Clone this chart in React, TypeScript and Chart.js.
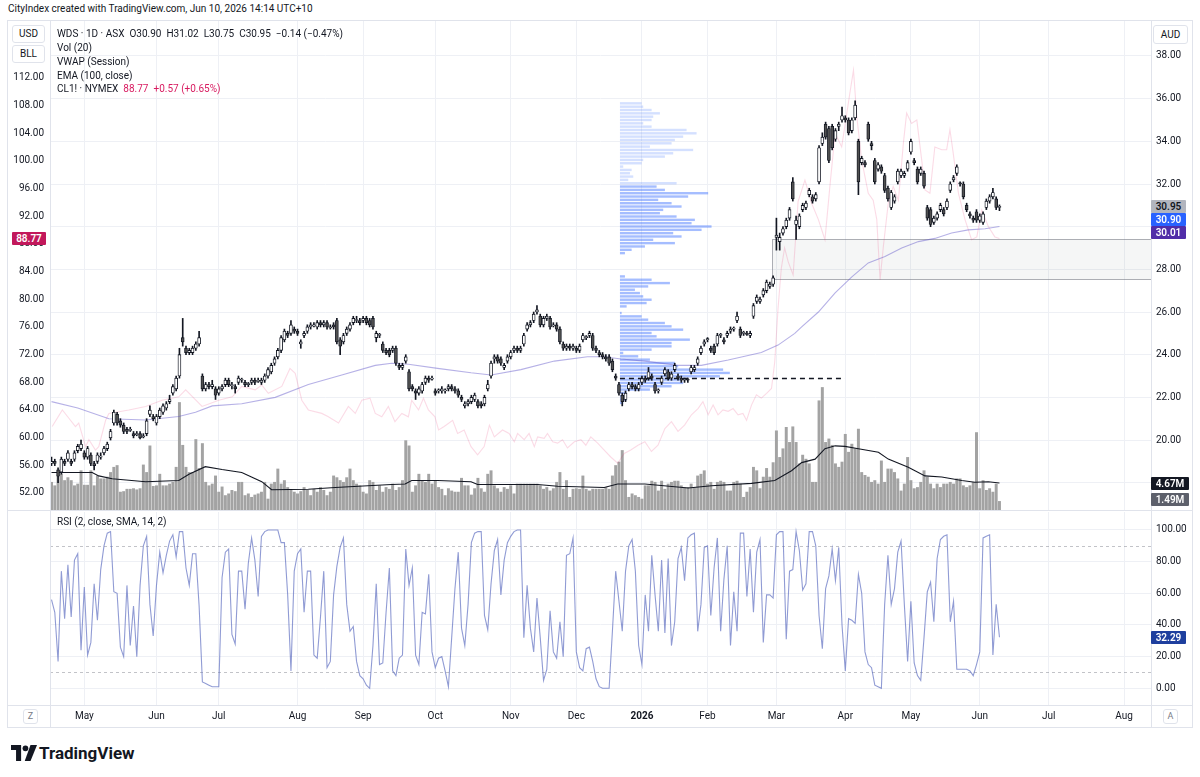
import React, { useEffect, useRef } from 'react';
import { Chart, registerables } from 'chart.js';

Chart.register(...registerables);

const FONT = "Roboto, 'DejaVu Sans', sans-serif";
const TXT = '#131722';
const GRID = '#eef0f5';
const LINE = '#e0e3eb';

// ---------- time axis ----------
const monthTickIdx = [10, 32, 51, 75, 95, 117, 140, 160, 180, 200, 221, 242, 262, 283, 304, 327];
const monthTickLabels = ['May', 'Jun', 'Jul', 'Aug', 'Sep', 'Oct', 'Nov', 'Dec', '2026', 'Feb', 'Mar', 'Apr', 'May', 'Jun', 'Jul', 'Aug'];

// ---------- axis ticks ----------
const audTicks = [18, 20, 22, 24, 26, 28, 30, 32, 34, 36, 38];
const usdTicks = [52, 56, 60, 64, 68, 72, 76, 80, 84, 88, 92, 96, 100, 104, 108, 112];
const rsiTicks = [0, 20, 40, 60, 80, 100];
const rsiBands = [90, 10];

// ---------- WDS daily OHLC (AUD) ----------
const opens = [
  18.9, 19.0, 18.6, 18.5, 19.0, 19.1, 19.0, 19.1, 19.5, 19.6,
  19.4, 19.2, 19.3, 18.9, 19.0, 19.2, 19.4, 19.6, 20.1, 20.8,
  21.2, 20.9, 20.7, 20.5, 20.45, 20.3, 20.25, 20.3, 20.15, 20.3,
  21.2, 21.1, 20.8, 21.1, 21.3, 21.5, 21.8, 22.2, 22.4, 23.0,
  24.8, 24.3, 24.1, 24.1, 24.3, 24.5, 23.0, 22.4, 22.6, 22.5,
  22.4, 22.2, 22.4, 22.6, 22.8, 22.55, 22.5, 22.7, 22.8, 22.7,
  22.6, 22.7, 22.8, 22.75, 22.7, 22.8, 23.0, 23.2, 23.6, 23.9,
  24.2, 24.7, 25.0, 25.0, 25.2, 25.1, 24.5, 24.9, 25.1, 25.3,
  25.35, 25.3, 25.5, 25.4, 25.5, 25.25, 25.4, 25.6, 24.7, 24.6,
  25.0, 25.2, 25.5, 25.6, 25.6, 25.6, 25.7, 25.6, 25.7, 24.8,
  24.9, 24.5, 24.2, 24.2, 24.2, 24.3, 23.5, 23.4, 23.7, 23.2,
  22.5, 22.3, 22.2, 22.3, 22.7, 22.9, 22.85, 22.3, 22.3, 22.3,
  22.3, 22.4, 22.5, 22.4, 22.3, 22.0, 21.6, 21.7, 21.8, 21.9,
  21.8, 21.7, 21.7, 22.4, 23.0, 23.8, 23.9, 23.8, 23.4, 23.7,
  23.9, 24.2, 24.3, 24.2, 24.5, 25.2, 25.4, 25.6, 26.0, 25.8,
  25.4, 25.7, 25.7, 25.35, 25.4, 25.2, 24.5, 24.3, 24.4, 24.3,
  24.3, 24.2, 24.7, 24.8, 24.9, 24.9, 24.3, 24.1, 24.0, 23.9,
  23.9, 23.7, 23.0, 22.6, 22.1, 21.9, 22.4, 22.6, 22.5, 22.4,
  22.7, 22.9, 22.9, 23.0, 22.6, 22.3, 22.7, 23.1, 23.2, 22.9,
  23.3, 23.0, 22.9, 22.8, 22.85, 23.2, 23.3, 23.6, 24.1, 24.5,
  24.7, 24.3, 24.4, 24.5, 24.9, 24.7, 24.9, 25.1, 25.2, 25.6,
  25.2, 25.0, 25.0, 24.9, 25.8, 26.5, 26.5, 26.8, 27.0, 27.2,
  27.3, 29.5, 29.3, 29.7, 30.0, 30.4, 32.1, 30.1, 30.0, 30.8,
  30.9, 31.5, 31.4, 31.3, 32.1, 33.9, 34.8, 34.6, 34.7, 34.1,
  34.7, 35.0, 35.1, 35.0, 34.5, 35.1, 34.0, 33.0, 33.0, 34.8,
  33.9, 33.1, 32.7, 32.8, 32.4, 31.8, 30.9, 31.2, 32.1, 32.4,
  32.4, 32.7, 33.5, 33.1, 32.7, 32.5, 32.5, 30.9, 30.8, 30.2,
  30.4, 30.8, 30.8, 30.9, 31.7, 32.2, 32.5, 32.05, 32.0, 31.0,
  30.6, 30.4, 30.7, 30.3, 30.2, 30.9, 31.2, 31.4, 31.3, 30.9,
];
const highs = [
  19.2, 19.1, 18.7, 19.2, 19.1, 19.5, 19.1, 19.5, 19.8, 20.0,
  19.5, 19.7, 19.4, 19.0, 19.4, 19.4, 19.7, 19.9, 20.5, 21.4,
  21.3, 21.0, 20.8, 20.6, 20.6, 20.4, 20.4, 20.4, 20.3, 21.0,
  21.6, 21.2, 21.2, 21.5, 21.7, 21.8, 22.1, 22.6, 23.0, 24.3,
  25.7, 24.4, 24.3, 24.4, 24.6, 25.1, 23.1, 22.7, 22.7, 22.8,
  22.5, 22.5, 22.6, 22.9, 22.9, 22.7, 22.6, 23.0, 22.9, 22.8,
  22.7, 22.9, 22.9, 22.9, 22.9, 23.1, 23.4, 23.6, 23.9, 24.3,
  24.9, 25.2, 25.1, 25.6, 25.3, 25.2, 24.7, 25.1, 25.4, 25.5,
  25.5, 25.6, 25.6, 25.6, 25.6, 25.4, 25.5, 25.7, 24.8, 25.0,
  25.3, 25.5, 25.8, 25.8, 25.7, 25.8, 25.8, 25.7, 25.8, 25.1,
  25.0, 24.6, 24.3, 24.3, 24.4, 24.4, 23.6, 23.6, 24.0, 23.3,
  22.6, 22.4, 22.5, 22.7, 23.0, 23.0, 23.0, 22.4, 22.4, 22.5,
  22.4, 22.6, 22.6, 22.5, 22.4, 22.1, 21.8, 21.9, 22.1, 22.2,
  21.9, 21.8, 22.1, 22.8, 23.7, 24.0, 24.0, 23.9, 23.6, 24.0,
  24.2, 24.4, 24.4, 24.4, 25.0, 25.5, 25.6, 26.0, 26.3, 25.9,
  25.8, 25.9, 25.8, 25.5, 25.5, 25.3, 24.6, 24.5, 24.5, 24.5,
  24.4, 24.5, 25.0, 24.9, 25.1, 25.0, 24.4, 24.2, 24.1, 24.0,
  24.0, 23.8, 23.1, 22.7, 22.2, 22.3, 22.7, 22.7, 22.6, 22.7,
  23.0, 23.0, 23.4, 23.1, 22.7, 22.4, 23.0, 23.4, 23.3, 23.2,
  23.6, 23.1, 23.0, 22.9, 22.9, 23.5, 23.5, 23.9, 24.4, 24.7,
  24.8, 24.4, 24.5, 25.0, 25.0, 24.8, 25.1, 25.3, 25.3, 26.0,
  25.3, 25.1, 25.1, 25.1, 26.4, 26.8, 26.7, 27.1, 27.5, 27.4,
  27.7, 30.4, 29.7, 30.0, 30.4, 30.9, 32.3, 30.5, 30.6, 31.1,
  31.2, 31.8, 31.5, 31.6, 33.8, 34.4, 34.9, 34.7, 34.8, 34.6,
  34.9, 35.6, 35.2, 35.1, 35.1, 35.9, 34.1, 33.3, 33.1, 34.9,
  34.0, 33.2, 33.0, 32.9, 32.5, 31.9, 31.7, 31.5, 32.7, 32.7,
  32.6, 33.1, 34.1, 33.2, 32.8, 32.8, 32.6, 31.0, 30.9, 30.5,
  30.7, 31.1, 30.9, 31.3, 32.1, 32.4, 32.9, 32.1, 32.1, 31.1,
  30.7, 30.5, 30.8, 30.6, 30.7, 31.3, 31.5, 31.8, 31.4, 31.02,
];
const lows = [
  18.8, 18.8, 18.0, 18.4, 18.8, 19.0, 18.8, 19.0, 19.4, 19.5,
  19.1, 19.1, 18.8, 18.6, 18.9, 19.1, 19.3, 19.5, 20.0, 20.7,
  20.7, 20.6, 20.3, 20.3, 20.4, 20.1, 20.2, 20.05, 20.1, 20.2,
  21.1, 20.9, 20.7, 21.0, 21.2, 21.4, 21.7, 22.1, 22.3, 22.9,
  24.4, 24.0, 24.0, 24.0, 24.2, 24.4, 22.3, 22.3, 22.4, 22.4,
  21.9, 22.1, 22.3, 22.5, 22.5, 22.4, 22.2, 22.6, 22.7, 22.5,
  22.5, 22.6, 22.6, 22.7, 22.6, 22.7, 22.9, 23.1, 23.5, 23.8,
  24.1, 24.6, 24.8, 24.9, 25.0, 24.9, 24.3, 24.8, 25.0, 25.2,
  25.3, 25.2, 25.3, 25.3, 25.2, 25.2, 25.2, 24.5, 24.0, 24.5,
  24.9, 25.1, 25.4, 25.5, 25.4, 25.5, 25.4, 25.3, 25.2, 24.6,
  24.8, 24.1, 24.0, 23.9, 24.1, 23.5, 23.3, 23.3, 23.6, 22.3,
  22.3, 21.9, 22.1, 22.2, 22.6, 22.7, 22.8, 22.1, 22.2, 22.2,
  22.2, 22.3, 22.3, 22.2, 22.0, 21.8, 21.5, 21.6, 21.7, 21.8,
  21.5, 21.5, 21.6, 22.3, 22.9, 23.6, 23.6, 23.5, 23.3, 23.6,
  23.8, 24.1, 24.1, 24.1, 24.4, 25.1, 25.3, 25.5, 25.9, 25.3,
  25.3, 25.6, 25.2, 25.3, 25.1, 24.5, 24.2, 24.2, 24.2, 24.2,
  24.1, 24.1, 24.6, 24.7, 24.8, 24.2, 24.1, 23.9, 23.8, 23.7,
  23.5, 23.2, 22.8, 22.1, 21.6, 21.8, 22.3, 22.4, 22.3, 22.3,
  22.6, 22.7, 22.8, 22.8, 22.2, 22.2, 22.6, 23.0, 22.8, 22.8,
  23.2, 22.8, 22.7, 22.7, 22.7, 23.1, 23.2, 23.5, 24.0, 24.4,
  24.6, 24.1, 24.0, 24.4, 24.8, 24.5, 24.8, 25.0, 25.1, 25.5,
  24.8, 24.9, 24.9, 24.8, 25.7, 26.4, 26.4, 26.7, 26.9, 27.1,
  27.2, 28.9, 28.9, 29.6, 29.9, 30.3, 31.2, 29.4, 29.9, 30.7,
  30.8, 31.4, 31.1, 31.2, 32.0, 33.8, 34.1, 33.0, 33.6, 34.0,
  34.5, 34.9, 34.9, 34.3, 34.4, 35.0, 31.5, 32.9, 32.8, 34.0,
  33.6, 32.0, 32.6, 32.5, 31.6, 31.2, 30.8, 31.1, 32.0, 32.3,
  32.3, 32.6, 33.4, 32.9, 32.0, 32.4, 31.8, 30.3, 30.0, 30.1,
  30.3, 30.7, 30.5, 30.8, 31.6, 32.1, 32.4, 31.9, 31.3, 30.7,
  30.4, 30.2, 30.2, 30.2, 30.1, 30.8, 31.1, 31.3, 30.8, 30.75,
];
const closes = [
  19.0, 18.9, 18.3, 19.1, 18.9, 19.4, 18.9, 19.4, 19.7, 19.8,
  19.2, 19.6, 18.9, 18.8, 19.3, 19.25, 19.6, 19.8, 20.4, 21.3,
  20.8, 20.7, 20.4, 20.4, 20.5, 20.2, 20.3, 20.1, 20.2, 20.9,
  21.4, 21.0, 21.1, 21.4, 21.6, 21.7, 21.9, 22.5, 22.9, 24.0,
  24.6, 24.1, 24.2, 24.3, 24.5, 24.8, 22.4, 22.6, 22.5, 22.6,
  22.1, 22.4, 22.5, 22.8, 22.6, 22.6, 22.4, 22.9, 22.85, 22.6,
  22.65, 22.8, 22.7, 22.8, 22.8, 23.0, 23.3, 23.5, 23.8, 24.2,
  24.8, 25.1, 24.9, 25.4, 25.1, 25.0, 24.6, 25.0, 25.3, 25.4,
  25.4, 25.5, 25.4, 25.5, 25.3, 25.3, 25.3, 24.6, 24.4, 24.9,
  25.2, 25.4, 25.7, 25.65, 25.5, 25.7, 25.5, 25.4, 25.3, 25.0,
  24.95, 24.2, 24.1, 24.0, 24.3, 23.6, 23.4, 23.5, 23.9, 22.4,
  22.4, 22.2, 22.4, 22.6, 22.9, 22.8, 22.9, 22.2, 22.35, 22.4,
  22.35, 22.5, 22.4, 22.3, 22.1, 21.9, 21.7, 21.8, 22.0, 22.1,
  21.6, 21.6, 22.0, 22.6, 23.6, 23.9, 23.7, 23.6, 23.5, 23.9,
  24.1, 24.3, 24.2, 24.3, 24.9, 25.4, 25.5, 25.9, 26.1, 25.4,
  25.7, 25.8, 25.3, 25.4, 25.2, 24.6, 24.3, 24.4, 24.3, 24.4,
  24.2, 24.4, 24.9, 24.85, 25.0, 24.3, 24.2, 24.0, 23.9, 23.8,
  23.6, 23.3, 22.9, 22.2, 21.8, 22.2, 22.6, 22.5, 22.4, 22.6,
  22.9, 22.8, 23.2, 22.9, 22.3, 22.35, 22.9, 23.3, 22.9, 23.1,
  23.5, 22.9, 22.8, 22.85, 22.8, 23.4, 23.4, 23.8, 24.3, 24.6,
  24.75, 24.2, 24.1, 24.9, 24.95, 24.6, 25.0, 25.2, 25.25, 25.8,
  24.9, 25.05, 24.95, 25.0, 26.3, 26.7, 26.6, 27.0, 27.4, 27.3,
  27.6, 29.6, 29.5, 29.9, 30.3, 30.8, 31.3, 30.3, 30.5, 31.0,
  31.1, 31.7, 31.2, 31.5, 33.7, 34.2, 34.2, 33.1, 33.7, 34.5,
  34.8, 35.2, 35.0, 34.4, 35.0, 35.7, 32.1, 33.2, 32.9, 34.1,
  33.8, 32.1, 32.9, 32.6, 31.7, 31.3, 31.6, 31.4, 32.6, 32.6,
  32.5, 33.0, 34.0, 33.0, 32.1, 32.7, 31.9, 30.4, 30.1, 30.4,
  30.6, 31.0, 30.6, 31.2, 32.0, 32.3, 32.8, 32.0, 31.4, 30.8,
  30.5, 30.3, 30.3, 30.5, 30.6, 31.2, 31.4, 31.6, 30.9, 30.95,
];

// ---------- volume (millions) ----------
const volumes = [
  4.8, 4.2, 5.9, 6.2, 5.1, 5.6, 5.1, 4.2, 4.5, 6.8,
  4.3, 4.3, 6.8, 4.2, 5.9, 5.4, 5.4, 5.7, 6.5, 7.4,
  7.7, 3.1, 3.2, 3.6, 3.6, 3.7, 3.5, 3.7, 7.8, 6.5,
  11.1, 4.1, 4.2, 6.2, 4.2, 4.2, 4.5, 4.8, 7.4, 18.6,
  11.2, 7.4, 6.5, 6.5, 12.2, 7.2, 11.5, 4.8, 4.2, 4.5,
  5.9, 3.1, 4.0, 2.5, 2.8, 3.4, 3.2, 4.8, 4.8, 2.5,
  2.8, 2.2, 2.6, 2.8, 3.1, 4.8, 1.9, 4.5, 4.8, 7.1,
  4.5, 5.1, 3.9, 3.4, 3.1, 2.8, 3.2, 3.9, 3.4, 2.5,
  3.6, 3.1, 3.9, 3.4, 2.5, 3.1, 5.9, 5.6, 5.1, 4.8,
  5.6, 7.1, 5.1, 4.5, 4.2, 3.1, 2.8, 5.1, 4.8, 3.4,
  4.2, 3.1, 3.9, 3.6, 4.5, 3.4, 3.9, 5.1, 12.0, 11.1,
  3.1, 4.2, 6.2, 5.1, 4.8, 6.2, 4.5, 5.1, 3.9, 3.6,
  2.5, 3.7, 3.3, 3.1, 3.1, 5.5, 4.2, 4.2, 2.6, 3.7,
  5.5, 3.7, 3.1, 6.2, 6.8, 4.2, 3.7, 3.1, 3.9, 3.6,
  4.2, 2.8, 4.5, 4.5, 4.5, 4.5, 4.5, 4.5, 4.5, 4.2,
  3.6, 3.9, 3.3, 3.7, 4.8, 6.5, 3.6, 5.1, 2.2, 3.6,
  3.7, 3.6, 5.9, 3.6, 3.3, 3.6, 3.6, 3.6, 3.6, 3.9,
  3.6, 5.9, 7.7, 8.3, 10.3, 5.1, 2.2, 2.8, 2.5, 2.2,
  1.9, 4.2, 4.2, 5.0, 4.8, 3.3, 5.0, 3.6, 4.5, 4.8,
  5.0, 5.0, 4.2, 3.9, 3.9, 4.5, 3.9, 5.9, 6.2, 6.8,
  4.5, 4.8, 3.6, 4.8, 5.0, 4.8, 3.3, 3.3, 4.8, 5.0,
  4.5, 2.2, 3.1, 3.9, 7.4, 6.8, 3.7, 5.7, 7.2, 5.7,
  8.2, 13.7, 9.1, 10.6, 14.3, 11.7, 14.4, 11.7, 8.0, 9.5,
  8.8, 8.0, 4.8, 4.8, 18.9, 21.2, 11.7, 12.3, 11.2, 8.0,
  7.4, 8.3, 13.1, 10.0, 11.4, 10.6, 14.0, 6.5, 6.0, 5.7,
  4.8, 5.1, 4.5, 8.5, 4.8, 7.1, 7.1, 6.5, 5.4, 3.3,
  4.5, 9.1, 5.1, 3.7, 3.9, 4.8, 6.8, 5.7, 4.5, 3.7,
  4.5, 3.9, 4.5, 4.5, 4.8, 4.5, 5.4, 5.4, 4.2, 3.9,
  4.2, 4.8, 13.4, 3.7, 5.1, 3.4, 3.7, 3.1, 4.5, 1.49,
];

// Vol (20) moving average: [bar index, millions]
const volMaPoints = [
  [0, 6.5], [12.4, 6.5], [14.4, 5.9], [18.5, 5.4], [28.7, 4.9], [38.8, 5.1], [41.9, 6.2], [46.9, 7.5],
  [52, 7.0], [58, 6.5], [64.1, 4.9], [67.1, 3.5], [78.3, 3.6], [86.5, 3.9], [93.6, 4.1], [103.7, 4.4],
  [107.8, 4.5], [109.8, 5.1], [117.7, 5.1], [127.9, 4.9], [129.9, 4.4], [148.2, 4.4], [154.3, 4.1],
  [168.5, 3.9], [172.6, 4.5], [180.9, 4.5], [194.1, 3.8], [201.2, 4.2], [213.4, 4.6], [220.5, 5.1],
  [225.6, 6.8], [228.7, 8.2], [232.8, 8.8], [235.8, 10.6], [238.9, 11.1], [241.9, 11.0], [246, 10.6],
  [252.1, 10.0], [255.1, 8.8], [261.2, 7.4], [266.3, 5.9], [271.4, 5.7], [277.5, 5.1], [281.5, 4.8],
  [285.6, 4.9], [289, 4.67],
];

// EMA (100, close): [bar index, AUD]
const emaPoints = [
  [0, 21.8], [8, 21.5], [17.5, 21.0], [28.7, 20.94], [38.8, 21.1], [43.9, 21.3], [49, 21.6], [58, 21.7],
  [68.2, 22.0], [78.3, 22.6], [88.5, 23.05], [98.7, 23.5], [103.7, 23.6], [108.8, 23.55], [117.7, 23.36],
  [127.9, 23.15], [134, 23.05], [143.1, 23.3], [153.3, 23.7], [163.4, 23.9], [168.5, 23.9], [173.6, 23.8],
  [180.9, 23.7], [191, 23.5], [198.1, 23.5], [206.3, 23.75], [216.4, 24.1], [221.5, 24.45], [226.6, 25.0],
  [228.7, 25.3], [233.8, 26.0], [238.9, 26.9], [244, 27.65], [249, 28.3], [254.1, 28.6], [259.2, 29.0],
  [264.3, 29.3], [269.3, 29.45], [274.4, 29.7], [279.5, 29.85], [284.6, 29.9], [289, 30.01],
];

// CL1! NYMEX overlay (USD, left scale): [bar index, USD]
const cl1Points = [
  [0.2, 61.6], [3.3, 64.0], [5.3, 62.8], [7.3, 61.6], [8.3, 62.1], [10.4, 58.7], [11.4, 59.7], [13.4, 58.2],
  [14.4, 58.7], [16.5, 62.5], [17.5, 63.5], [23.6, 64.0], [28.7, 64.5], [33.7, 65.4], [38.8, 65.9],
  [40.9, 66.9], [45.9, 64.5], [51, 65.4], [55.1, 65.9], [58, 67.4], [62.1, 66.9], [64.1, 67.6], [66.1, 66.4],
  [70.2, 67.4], [72.7, 70.0], [74.3, 69.3], [76.3, 65.4], [78.3, 64.0], [82.4, 63.5], [84.4, 63.0],
  [87.5, 62.1], [90.5, 64.5], [92.6, 63.5], [94.6, 65.4], [97.1, 65.7], [98.7, 63.5], [100.7, 63.0],
  [102.7, 64.5], [104.7, 62.3], [106.8, 63.5], [108.8, 63.0], [109.8, 65.4], [111.9, 64.0], [113.4, 65.7],
  [114.9, 64.0], [116.9, 63.0], [118, 61.1], [119.7, 61.6], [122.3, 62.5], [123.8, 60.6], [125.8, 61.1],
  [127.9, 58.7], [129.9, 57.5], [131.9, 58.7], [133.5, 61.8], [135, 60.1], [137.5, 61.1], [139.5, 60.6],
  [141.1, 59.4], [142.1, 60.6], [144.1, 59.7], [145.6, 60.6], [147.2, 58.7], [148.2, 60.1], [150.2, 59.9],
  [151.2, 60.6], [152.8, 59.4], [154.3, 59.2], [155.8, 59.7], [157.3, 58.5], [159.4, 59.4], [161.4, 59.7],
  [162.9, 58.9], [164.4, 60.1], [166.5, 59.2], [168.5, 58.2], [170.5, 57.2], [172.6, 56.3], [174.6, 57.7],
  [176.6, 58.2], [178.8, 58.9], [180.9, 59.4], [182.9, 58.0], [184.9, 58.9], [187, 61.3], [189, 62.3],
  [191, 60.9], [193, 61.8], [195.1, 63.3], [197.1, 64.2], [198.6, 65.2], [200.2, 63.3], [201.7, 64.7],
  [203.2, 63.3], [204.7, 64.0], [206.3, 63.8], [207.8, 64.2], [209.3, 63.3], [210.8, 63.5], [211.9, 62.5],
  [213.4, 64.7], [214.9, 66.2], [216.4, 65.7], [218, 66.4], [219.5, 67.1], [220.5, 71.0], [221.5, 78.7],
  [222.5, 84.5], [223.5, 87.4], [224.6, 85.4], [226.1, 83.5], [227.6, 94.1], [229.7, 97.2], [231.7, 93.9],
  [233.8, 91.5], [235.8, 88.6], [237.3, 96.3], [238.9, 104.0], [240.9, 102.0], [243.4, 109.8],
  [244.5, 113.1], [245.5, 106.4], [247, 100.1], [249, 95.3], [250.5, 94.3], [251.6, 91.5], [252.6, 82.8],
  [253.6, 87.6], [255.1, 93.9], [256.6, 96.3], [258.2, 94.3], [259.7, 102.5], [260.7, 106.9],
  [262.2, 105.4], [263.8, 105.9], [265.3, 100.1], [266.3, 95.8], [267.8, 95.3], [269.3, 102.0],
  [271.4, 101.6], [272.9, 101.6], [273.9, 104.5], [274.9, 101.1], [276.5, 95.3], [278.5, 91.5],
  [280.5, 88.6], [282.1, 89.0], [283.6, 92.9], [285.6, 90.5], [287.6, 89.0], [289, 88.77],
];

// RSI (2, close)
const rsiValues = [
  56, 48, 17, 74, 44, 78, 45, 81, 85, 24,
  64, 21, 29, 66, 43, 75, 90, 98, 99, 61,
  60, 26, 20, 65, 27, 52, 20, 65, 90, 96,
  53, 33, 65, 86, 73, 84, 93, 97, 83, 99,
  99, 76, 65, 85, 85, 52, 4, 3, 2, 1,
  1, 1, 70, 86, 88, 34, 28, 74, 74, 50,
  79, 95, 81, 58, 96, 99, 100, 100, 100, 100,
  92, 92, 59, 11, 74, 85, 88, 48, 74, 74,
  21, 19, 45, 74, 13, 17, 59, 77, 89, 95,
  53, 36, 39, 17, 8, 6, 2, 0, 27, 66,
  15, 16, 48, 76, 11, 8, 19, 21, 88, 65,
  76, 21, 15, 48, 47, 72, 23, 13, 19, 20,
  11, 1, 32, 63, 86, 38, 27, 53, 92, 98,
  99, 99, 46, 37, 66, 87, 94, 59, 81, 92,
  96, 99, 100, 100, 32, 65, 38, 23, 57, 32,
  5, 12, 49, 23, 19, 42, 20, 84, 85, 95,
  23, 13, 11, 25, 26, 17, 6, 1, 0, 0,
  0, 36, 74, 55, 36, 74, 90, 94, 74, 27,
  15, 59, 36, 84, 59, 36, 81, 35, 82, 27,
  42, 82, 89, 68, 95, 97, 98, 36, 53, 89,
  90, 46, 76, 95, 36, 69, 90, 27, 61, 36,
  98, 98, 58, 88, 48, 86, 94, 29, 59, 59,
  57, 97, 99, 99, 31, 74, 75, 99, 87, 62,
  66, 99, 99, 90, 46, 25, 63, 71, 88, 68,
  89, 40, 11, 44, 43, 41, 72, 60, 23, 15,
  13, 2, 1, 0, 53, 84, 53, 63, 86, 93,
  53, 17, 55, 16, 8, 5, 32, 61, 67, 42,
  82, 94, 96, 97, 42, 55, 12, 12, 12, 12,
  11, 8, 15, 23, 95, 96, 97, 21, 53, 32.29,
];

// Fixed range volume profile (rows from the top price downward)
const vpTopPrice = 35.78;
const vpRowSize = 0.156;
const vpStartIdx = 173.3;
const vpWidthBars = 33.5;
const vpValueAreaHigh = 32.0;
const vpPocPrice = 22.9;
const vpPocEndIdx = 241.9;
const vpVolumes = [
  21.7, 23.3, 31.7, 40, 33.3, 31.7, 23.3, 31.7, 66.7, 76.7,
  63.3, 55, 51.7, 30, 73.3, 53.3, 45, 23.3, 21.7, 3.3,
  11.7, 10, 13.3, 8.3, 56.7, 36.7, 45, 88.3, 68.3, 38.3,
  51.7, 61.7, 43.3, 40, 56.7, 75, 71.7, 91.7, 81.7, 53.3,
  61.7, 33.3, 55, 25, 11.7, 5,
  0, 0, 0, 0, 0, 0,
  5, 31.7, 50, 28.3, 15, 20, 23.3, 31.7, 26.7, 6.7,
  0, 1.7, 21.7, 28.3, 45, 51.7, 63.3, 31.7, 36.7, 70,
  51.7, 51.7, 31.7, 3.3, 18.3, 30, 55, 58.3, 103.3, 110,
  100, 61.7, 63.3, 51.7, 30, 6.7, 5, 6.7, 3.3,
];

// Gap rectangle drawn on the chart
const gapBoxStartIdx = 219.7;
const gapBoxTop = 29.41;
const gapBoxBottom = 27.53;

const X_MIN = -0.46;
const X_MAX = 335.2;

const tickFont = { family: FONT, size: 10 };

const priceOverlay = {
  id: 'priceOverlay',
  beforeDatasetsDraw(chart: any) {
    const { ctx, chartArea, scales } = chart;
    const xs = scales.x;
    const ys = scales.y;
    ctx.save();
    ctx.beginPath();
    ctx.rect(chartArea.left, chartArea.top, chartArea.width, chartArea.height);
    ctx.clip();
    const bx0 = Math.round(xs.getPixelForValue(gapBoxStartIdx)) + 0.5;
    const by0 = Math.round(ys.getPixelForValue(gapBoxTop)) + 0.5;
    const by1 = Math.round(ys.getPixelForValue(gapBoxBottom)) + 0.5;
    ctx.fillStyle = 'rgba(120,123,134,0.07)';
    ctx.fillRect(bx0, by0, chartArea.right - bx0, by1 - by0);
    ctx.strokeStyle = 'rgba(120,123,134,0.6)';
    ctx.lineWidth = 1;
    ctx.strokeRect(bx0, by0, chartArea.right - bx0 + 4, by1 - by0);
    const maxV = Math.max(...vpVolumes);
    const x0 = xs.getPixelForValue(vpStartIdx);
    const fullW = xs.getPixelForValue(vpStartIdx + vpWidthBars) - x0;
    vpVolumes.forEach((v, k) => {
      if (v <= 0) return;
      const p = vpTopPrice - k * vpRowSize;
      const yc = ys.getPixelForValue(p);
      const h = Math.abs(ys.getPixelForValue(p - vpRowSize) - yc) * 0.72;
      ctx.fillStyle = p <= vpValueAreaHigh ? 'rgba(41,98,255,0.42)' : 'rgba(41,98,255,0.2)';
      ctx.fillRect(x0, yc - h / 2, (v / maxV) * fullW, h);
    });
    ctx.restore();
  },
  afterDatasetsDraw(chart: any) {
    const { ctx, scales } = chart;
    const xs = scales.x;
    const ys = scales.y;
    const y = Math.round(ys.getPixelForValue(vpPocPrice)) + 0.5;
    ctx.save();
    ctx.strokeStyle = '#131722';
    ctx.lineWidth = 1.3;
    ctx.setLineDash([5, 4]);
    ctx.beginPath();
    ctx.moveTo(xs.getPixelForValue(vpStartIdx), y);
    ctx.lineTo(xs.getPixelForValue(vpPocEndIdx), y);
    ctx.stroke();
    ctx.restore();
  },
};

const rsiOverlay = {
  id: 'rsiOverlay',
  beforeDatasetsDraw(chart: any) {
    const { ctx, chartArea, scales } = chart;
    ctx.save();
    ctx.strokeStyle = 'rgba(120,123,134,0.45)';
    ctx.lineWidth = 1;
    ctx.setLineDash([3, 3]);
    rsiBands.forEach((b) => {
      const y = Math.round(scales.y.getPixelForValue(b)) + 0.5;
      ctx.beginPath();
      ctx.moveTo(chartArea.left, y);
      ctx.lineTo(chartArea.right, y);
      ctx.stroke();
    });
    ctx.restore();
  },
};

function xAxis(showLabels: boolean) {
  return {
    type: 'linear',
    min: X_MIN,
    max: X_MAX,
    offset: false,
    afterBuildTicks: (s: any) => {
      s.ticks = monthTickIdx.map((v) => ({ value: v }));
    },
    ticks: {
      display: showLabels,
      autoSkip: false,
      maxRotation: 0,
      padding: 5,
      color: TXT,
      font: (c: any) => ({ family: FONT, size: 10, weight: monthTickLabels[c.index] === '2026' ? 'bold' : 'normal' }),
      callback: (_v: any, i: number) => monthTickLabels[i],
    },
    grid: { color: GRID, drawTicks: false, offset: false },
    border: { display: false },
    afterFit: (s: any) => {
      s.height = showLabels ? 23 : 0;
      s.paddingLeft = 0;
      s.paddingRight = 0;
    },
  };
}

function PriceChart() {
  const ref = useRef<HTMLCanvasElement>(null);
  useEffect(() => {
    const idx = closes.map((_, i) => i);
    const chart = new Chart(ref.current as HTMLCanvasElement, {
      type: 'bar',
      data: {
        datasets: [
          {
            type: 'bar',
            label: 'Volume',
            yAxisID: 'vol',
            data: idx.map((i) => ({ x: i, y: volumes[i] })),
            backgroundColor: '#a3a3a3',
            barThickness: 2.3,
            grouped: false,
            order: 10,
          },
          {
            type: 'line',
            label: 'Vol MA',
            yAxisID: 'vol',
            data: volMaPoints.map(([x, y]) => ({ x, y })),
            borderColor: '#131722',
            borderWidth: 1.1,
            pointRadius: 0,
            order: 9,
          },
          {
            type: 'line',
            label: 'CL1!',
            yAxisID: 'yL',
            data: cl1Points.map(([x, y]) => ({ x, y })),
            borderColor: 'rgba(233,30,99,0.16)',
            borderWidth: 1.1,
            pointRadius: 0,
            order: 8,
          },
          {
            type: 'line',
            label: 'EMA',
            yAxisID: 'y',
            data: emaPoints.map(([x, y]) => ({ x, y })),
            borderColor: 'rgba(94,82,200,0.45)',
            borderWidth: 1.1,
            pointRadius: 0,
            order: 7,
          },
          {
            type: 'bar',
            label: 'Wicks',
            yAxisID: 'y',
            data: idx.map((i) => ({ x: i, y: [lows[i], highs[i]] })),
            backgroundColor: '#131722',
            barThickness: 1,
            grouped: false,
            order: 3,
          },
          {
            type: 'bar',
            label: 'Bodies',
            yAxisID: 'y',
            data: idx.map((i) => ({ x: i, y: [opens[i], closes[i]] })),
            backgroundColor: (c: any) => (closes[c.dataIndex] >= opens[c.dataIndex] ? '#ffffff' : '#505050'),
            borderColor: '#131722',
            borderWidth: 0.9,
            borderSkipped: false,
            barThickness: 3,
            minBarLength: 1,
            grouped: false,
            order: 2,
          },
        ],
      },
      options: {
        animation: false,
        responsive: false,
        maintainAspectRatio: false,
        events: [],
        layout: { padding: 0 },
        plugins: { legend: { display: false }, tooltip: { enabled: false } },
        scales: {
          x: xAxis(false),
          y: {
            position: 'right',
            min: 16.72,
            max: 39.64,
            afterBuildTicks: (s: any) => {
              s.ticks = audTicks.map((v) => ({ value: v }));
            },
            ticks: {
              color: TXT,
              font: tickFont,
              padding: 5,
              callback: (v: any) => (Number(v) === 30 ? '' : Number(v).toFixed(2)),
            },
            grid: { color: GRID, drawTicks: false },
            border: { display: false },
            afterFit: (s: any) => {
              s.width = 41;
              s.paddingTop = 0;
              s.paddingBottom = 0;
            },
          },
          yL: {
            position: 'left',
            min: 49.54,
            max: 120.2,
            afterBuildTicks: (s: any) => {
              s.ticks = usdTicks.map((v) => ({ value: v }));
            },
            ticks: { color: TXT, font: tickFont, padding: 6, callback: (v: any) => Number(v).toFixed(2) },
            grid: { display: false, drawTicks: false },
            border: { display: false },
            afterFit: (s: any) => {
              s.width = 42;
              s.paddingTop = 0;
              s.paddingBottom = 0;
            },
          },
          vol: { display: false, min: 0, max: 84.6 },
        },
      } as any,
      plugins: [priceOverlay],
    } as any);
    return () => chart.destroy();
  }, []);
  return (
    <canvas
      ref={ref}
      width={1184}
      height={489}
      style={{ position: 'absolute', left: 8, top: 21, width: 1184, height: 489 }}
    />
  );
}

function RsiChart() {
  const ref = useRef<HTMLCanvasElement>(null);
  useEffect(() => {
    const chart = new Chart(ref.current as HTMLCanvasElement, {
      type: 'line',
      data: {
        datasets: [
          {
            label: 'RSI',
            data: rsiValues.map((v, i) => ({ x: i, y: v })),
            borderColor: 'rgba(92,107,192,0.68)',
            borderWidth: 1.1,
            pointRadius: 0,
            tension: 0,
          },
        ],
      },
      options: {
        animation: false,
        responsive: false,
        maintainAspectRatio: false,
        events: [],
        layout: { padding: { left: 42, top: 1, right: 0, bottom: 0 } },
        plugins: { legend: { display: false }, tooltip: { enabled: false } },
        scales: {
          x: xAxis(true),
          y: {
            position: 'right',
            min: -10.55,
            max: 111.37,
            afterBuildTicks: (s: any) => {
              s.ticks = rsiTicks.map((v) => ({ value: v }));
            },
            ticks: { color: TXT, font: tickFont, padding: 5, callback: (v: any) => Number(v).toFixed(2) },
            grid: { color: GRID, drawTicks: false },
            border: { display: false },
            afterFit: (s: any) => {
              s.width = 41;
              s.paddingTop = 0;
              s.paddingBottom = 0;
            },
          },
        },
      } as any,
      plugins: [rsiOverlay],
    } as any);
    return () => chart.destroy();
  }, []);
  return (
    <canvas
      ref={ref}
      width={1184}
      height={217}
      style={{ position: 'absolute', left: 8, top: 511, width: 1184, height: 217 }}
    />
  );
}

function Txt(props: any) {
  const { x, y, size = 10, color = TXT, weight = 'normal', children } = props;
  return (
    <div
      style={{
        position: 'absolute',
        left: x,
        top: y,
        transform: 'translateY(-50%)',
        fontSize: size,
        fontWeight: weight,
        color,
        whiteSpace: 'pre',
        lineHeight: 1,
        fontFamily: FONT,
      }}
    >
      {children}
    </div>
  );
}

function Badge(props: any) {
  const { x, y, w = 35, h = 13, bg, fg = '#ffffff', text } = props;
  return (
    <div
      style={{
        position: 'absolute',
        left: x,
        top: y,
        width: w,
        height: h,
        background: bg,
        color: fg,
        fontFamily: FONT,
        fontSize: 10,
        fontWeight: 600,
        lineHeight: `${h}px`,
        textAlign: 'center',
        borderRadius: 1,
      }}
    >
      {text}
    </div>
  );
}

function Box(props: any) {
  const { x, y, w, h, text, size = 10, color = TXT } = props;
  return (
    <div
      style={{
        position: 'absolute',
        left: x,
        top: y,
        width: w,
        height: h,
        border: `1px solid ${LINE}`,
        borderRadius: 3,
        background: '#fff',
        color,
        fontFamily: FONT,
        fontSize: size,
        lineHeight: `${h - 2}px`,
        textAlign: 'center',
        boxSizing: 'border-box',
      }}
    >
      {text}
    </div>
  );
}

function HLine({ x, y, w }: any) {
  return <div style={{ position: 'absolute', left: x, top: y, width: w, height: 1, background: LINE }} />;
}
function VLine({ x, y, h }: any) {
  return <div style={{ position: 'absolute', left: x, top: y, width: 1, height: h, background: LINE }} />;
}

const gap = { marginRight: 5 };

export default function App() {
  return (
    <div
      style={{
        position: 'absolute',
        left: 0,
        top: 0,
        width: 1200,
        height: 777,
        background: '#ffffff',
        overflow: 'hidden',
        fontFamily: FONT,
        color: TXT,
      }}
    >
      <Txt x={8} y={9} size={10}>CityIndex created with TradingView.com, Jun 10, 2026 14:14 UTC+10</Txt>

      <PriceChart />
      <RsiChart />

      {/* frame */}
      <div
        style={{
          position: 'absolute',
          left: 7,
          top: 20,
          width: 1186,
          height: 708,
          border: `1px solid ${LINE}`,
          boxSizing: 'border-box',
          pointerEvents: 'none',
        }}
      />
      <VLine x={50} y={20} h={708} />
      <VLine x={1151} y={20} h={708} />
      <HLine x={7} y={510} w={1186} />
      <HLine x={7} y={705} w={1186} />

      {/* legend */}
      <div style={{ position: 'absolute', left: 57, top: 34, transform: 'translateY(-50%)', fontSize: 10, lineHeight: 1, whiteSpace: 'pre', fontFamily: FONT, color: TXT }}>
        <span style={gap}>WDS · 1D · ASX</span>
        <span style={gap}>O30.90</span>
        <span style={gap}>H31.02</span>
        <span style={gap}>L30.75</span>
        <span style={gap}>C30.95</span>
        <span>−0.14 (−0.47%)</span>
      </div>
      <Txt x={57} y={48}>Vol (20)</Txt>
      <Txt x={57} y={62}>VWAP (Session)</Txt>
      <Txt x={57} y={76}>EMA (100, close)</Txt>
      <div style={{ position: 'absolute', left: 57, top: 89, transform: 'translateY(-50%)', fontSize: 10, lineHeight: 1, whiteSpace: 'pre', fontFamily: FONT }}>
        <span style={{ ...gap, color: TXT }}>CL1! · NYMEX</span>
        <span style={{ ...gap, color: '#d81b60' }}>88.77</span>
        <span style={{ color: '#d81b60' }}>+0.57 (+0.65%)</span>
      </div>
      <Txt x={57} y={522}>RSI (2, close, SMA, 14, 2)</Txt>

      {/* axis header boxes */}
      <Box x={12} y={25} w={33} h={18} text="USD" />
      <Box x={12} y={45} w={33} h={18} text="BLL" />
      <Box x={1153} y={25} w={35} h={19} text="AUD" />
      <Box x={23} y={709} w={15} h={15} text="Z" size={9} color="#787b86" />
      <Box x={1163} y={709} w={15} h={15} text="A" size={9} color="#787b86" />

      {/* price badges */}
      <Badge x={1151} y={200} bg="#b2b5be" fg="#131722" text="30.95" />
      <Badge x={1151} y={213} bg="#2962ff" text="30.90" />
      <Badge x={1151} y={226} bg="#512da8" text="30.01" />
      <Badge x={1151} y={477} w={38} bg="#131722" text="4.67M" />
      <Badge x={1151} y={493} w={38} bg="#5d606b" text="1.49M" />
      <Badge x={1151} y={631} bg="#1e3f9e" text="32.29" />
      <Badge x={12} y={232} w={34} bg="#c2185b" text="88.77" />

      {/* logo */}
      <svg style={{ position: 'absolute', left: 11, top: 745 }} width="26" height="16" viewBox="0 0 36 22">
        <path d="M0 0h14v22H7V7H0z" fill="#131722" />
        <circle cx="20" cy="4.5" r="4" fill="#131722" />
        <path d="M27 0h9l-9 22h-8z" fill="#131722" />
      </svg>
      <Txt x={39} y={753} size={17} weight={700}>TradingView</Txt>
    </div>
  );
}
